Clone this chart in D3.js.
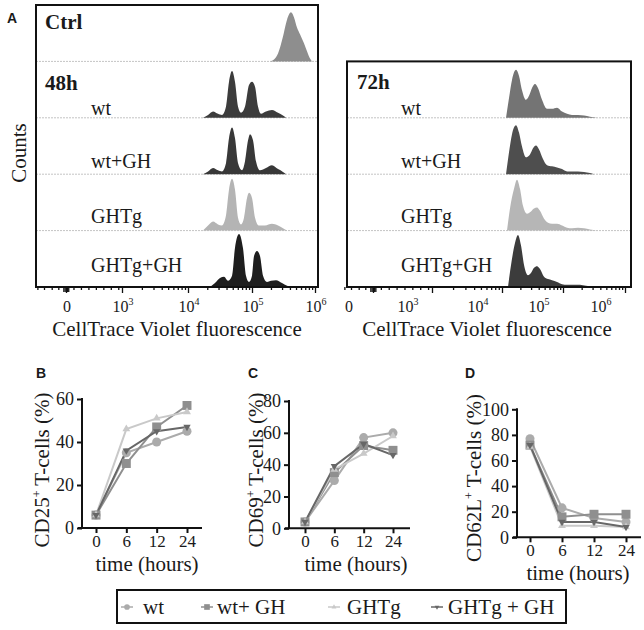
<!DOCTYPE html>
<html><head><meta charset="utf-8">
<script src="https://cdnjs.cloudflare.com/ajax/libs/d3/7.8.5/d3.min.js"></script>
<style>
body{margin:0;background:#fff}
svg{display:block}
text{font-family:"Liberation Serif","Times New Roman",serif;fill:#1a1a1a}
</style></head><body>
<svg id="fig" width="644" height="630"></svg>
<script>
// ================= DATA =================
// Panel A – histograms: [log10(CellTrace Violet), % of max]
const histTickValues = [0, 3, 4, 5, 6];
const histTickLabels = [["0",""],["10","3"],["10","4"],["10","5"],["10","6"]];
const rowLabels = ["wt","wt+GH","GHTg","GHTg+GH"];

const histCtrl = [[5.286,0],[5.349,3.5],[5.413,14],[5.492,44],[5.556,74],[5.619,87],[5.667,78],[5.714,60],[5.762,48],[5.825,32],[5.873,18],[5.921,5],[5.952,0]];

const hist48_wt = [[4.234,0],[4.313,5],[4.391,11],[4.469,7],[4.531,5],[4.594,20],[4.641,64],[4.688,83],[4.734,64],[4.781,20],[4.828,9],[4.891,20],[4.953,58],[5.0,64],[5.048,55],[5.095,20],[5.143,7],[5.222,11],[5.317,14],[5.413,9],[5.492,4],[5.540,0]];
const hist48_wtGH = [[4.234,0],[4.313,5],[4.391,11],[4.469,7],[4.531,5],[4.594,20],[4.641,64],[4.688,83],[4.734,64],[4.781,20],[4.844,7],[4.891,23],[4.938,60],[4.969,71],[5.016,60],[5.063,23],[5.127,7],[5.222,11],[5.317,16],[5.413,9],[5.492,4],[5.540,0]];
const hist48_GHTg = [[4.234,0],[4.313,9],[4.391,16],[4.469,11],[4.531,9],[4.594,27],[4.641,73],[4.688,92],[4.734,73],[4.781,23],[4.828,11],[4.875,23],[4.922,58],[4.953,67],[5.0,58],[5.048,23],[5.111,9],[5.206,9],[5.317,12],[5.413,9],[5.492,4],[5.556,0]];
const hist48_GHTgGH = [[4.344,0],[4.422,7],[4.5,16],[4.563,18],[4.625,11],[4.688,20],[4.734,69],[4.797,94],[4.859,69],[4.906,20],[4.953,9],[5.0,20],[5.032,55],[5.079,64],[5.127,55],[5.175,20],[5.238,9],[5.302,11],[5.381,12],[5.476,7],[5.556,2],[5.603,0]];

const hist72_wt = [[4.066,0],[4.115,35],[4.164,67],[4.230,85],[4.279,74],[4.328,49],[4.393,32],[4.443,39],[4.492,53],[4.541,60],[4.590,53],[4.656,32],[4.738,16],[4.820,16],[4.902,18],[4.984,11],[5.065,7],[5.145,5],[5.242,5],[5.339,4],[5.435,2],[5.548,0]];
const hist72_wtGH = [[4.066,0],[4.115,39],[4.164,71],[4.230,87],[4.279,74],[4.328,49],[4.393,30],[4.459,35],[4.508,46],[4.557,51],[4.607,44],[4.672,27],[4.738,16],[4.820,14],[4.902,12],[4.984,9],[5.065,5],[5.145,5],[5.242,5],[5.339,4],[5.435,2],[5.5,0]];
const hist72_GHTg = [[4.082,0],[4.131,39],[4.197,74],[4.246,90],[4.295,74],[4.344,44],[4.410,30],[4.475,34],[4.525,39],[4.574,41],[4.623,35],[4.689,21],[4.754,14],[4.820,12],[4.902,12],[4.984,9],[5.065,5],[5.145,4],[5.242,5],[5.339,4],[5.435,2],[5.548,0]];
const hist72_GHTgGH = [[4.098,0],[4.148,39],[4.213,78],[4.262,92],[4.311,74],[4.361,39],[4.426,21],[4.475,25],[4.525,34],[4.574,37],[4.623,32],[4.689,18],[4.754,14],[4.820,12],[4.902,9],[4.984,5],[5.065,4],[5.177,4],[5.274,4],[5.371,2],[5.548,0]];

// Panels B–D – % positive T-cells over time
const timeLabels = ["0","6","12","24"];
const seriesNames = ["wt","wt+ GH","GHTg","GHTg + GH"];

const cd25_wt     = [6, 35, 40, 45];
const cd25_wtGH   = [6, 30, 47, 57];
const cd25_GHTg   = [6, 46, 51, 54];
const cd25_GHTgGH = [6, 36, 45, 47];

const cd69_wt     = [4, 30, 57, 60];
const cd69_wtGH   = [4, 35, 52, 49];
const cd69_GHTg   = [4, 37, 47, 58];
const cd69_GHTgGH = [4, 39, 53, 46];

const cd62_wt     = [77, 23, 15, 12];
const cd62_wtGH   = [72, 16, 18, 18];
const cd62_GHTg   = [71, 9, 9, 8];
const cd62_GHTgGH = [72, 12, 12, 8];

const cd25Ticks = [0, 20, 40, 60];
const cd69Ticks = [0, 20, 40, 60, 80];
const cd62Ticks = [0, 20, 40, 60, 80, 100];

// ================= DRAWING =================
const svg = d3.select("#fig");
const SERIF = '"Liberation Serif","Times New Roman",serif';

// ---- Panel A ----
function histPanel(o) {
  const g = svg.append("g");
  const rowH = (o.bottom - o.top) / o.rows.length;
  o.rows.forEach((r, i) => {
    const base = o.top + rowH * (i + 1);
    const y = d3.scaleLinear().domain([0, 100]).range([base, base - rowH]);
    if (i < o.rows.length - 1) {
      g.append("line").attr("x1", o.left).attr("x2", o.right)
        .attr("y1", base).attr("y2", base)
        .attr("stroke", "#c4c4c4").attr("stroke-width", 1).attr("stroke-dasharray", "2,1");
    }
    const area = d3.area().x(d => o.x(d[0])).y0(base).y1(d => y(d[1])).curve(d3.curveMonotoneX);
    g.append("path").datum(r.data).attr("d", area).attr("fill", r.color);
    if (r.label) {
      g.append("text").attr("x", r.lx).attr("y", r.ly)
        .style("font-family", SERIF)
        .style("font-size", r.bold ? "21px" : "20px")
        .style("font-weight", r.bold ? "bold" : "normal")
        .text(r.label);
    }
  });
  if (o.head) {
    g.append("text").attr("x", o.headX).attr("y", o.headY).style("font-family", SERIF)
      .style("font-size", "21px").style("font-weight", "bold").text(o.head);
  }
  g.append("rect").attr("x", o.left).attr("y", o.top)
    .attr("width", o.right - o.left).attr("height", o.bottom - o.top)
    .attr("fill", "none").attr("stroke", "#111").attr("stroke-width", 2);

  // axis: major + minor ticks
  const minor = [];
  [-1.3, -1.0, -0.65, -0.35].forEach(v => minor.push(v));
  d3.range(0.4, 2.9, 0.4).forEach(v => minor.push(v));
  [3, 4, 5].forEach(dd => d3.range(2, 10).forEach(k => minor.push(dd + Math.log10(k))));
  const ax = g.append("g").attr("transform", `translate(0,${o.bottom})`);
  ax.append("g").call(d3.axisBottom(o.x).tickValues(minor).tickSize(3).tickFormat(""))
    .call(s => s.select(".domain").remove());
  ax.append("g").call(d3.axisBottom(o.x).tickValues([-0.12, -0.06, 0.06, 0.12]).tickSize(5).tickFormat(""))
    .call(s => s.select(".domain").remove());
  ax.append("g").call(d3.axisBottom(o.x).tickValues(histTickValues).tickSize(6).tickFormat(""))
    .call(s => s.select(".domain").remove());
  ax.selectAll("line").attr("stroke", "#111").attr("stroke-width", 1.3);

  histTickValues.forEach((v, i) => {
    const lab = histTickLabels[i];
    const t = g.append("text").attr("x", o.x(v) + o.labelDx).attr("y", 312)
      .attr("text-anchor", "middle").style("font-family", SERIF).style("font-size", "16px");
    t.append("tspan").text(lab[0]);
    if (lab[1]) t.append("tspan").attr("dy", -7).style("font-size", "10px").text(lab[1]);
  });
  g.append("text").attr("x", o.titleX).attr("y", 336).attr("text-anchor", "middle")
    .style("font-family", SERIF).style("font-size", "21px").text("CellTrace Violet fluorescence");
}

const xLeft = d3.scaleLinear().domain([-1, 0, 3, 4, 5, 6]).range([44, 66, 122, 188, 252, 315]);
const xRight = d3.scaleLinear().domain([-1, 0, 3, 4, 5, 6]).range([351, 373, 432, 502, 563, 625]);

histPanel({
  x: xLeft, left: 36, right: 318, top: 5, bottom: 287, labelDx: 1, titleX: 177,
  rows: [
    {data: histCtrl, color: "#8e8e8e", label: "Ctrl", lx: 45, ly: 29, bold: true},
    {data: hist48_wt, color: "#3c3c3c", label: rowLabels[0], lx: 91, ly: 115},
    {data: hist48_wtGH, color: "#383838", label: rowLabels[1], lx: 91, ly: 168},
    {data: hist48_GHTg, color: "#b4b4b4", label: rowLabels[2], lx: 91, ly: 223},
    {data: hist48_GHTgGH, color: "#1e1e1e", label: rowLabels[3], lx: 91, ly: 272}
  ],
  head: "48h", headX: 45, headY: 90
});

histPanel({
  x: xRight, left: 347, right: 631, top: 61.4, bottom: 287, labelDx: -24, titleX: 487,
  rows: [
    {data: hist72_wt, color: "#747474", label: rowLabels[0], lx: 401, ly: 115},
    {data: hist72_wtGH, color: "#4e4e4e", label: rowLabels[1], lx: 401, ly: 168},
    {data: hist72_GHTg, color: "#b6b6b6", label: rowLabels[2], lx: 401, ly: 223},
    {data: hist72_GHTgGH, color: "#3c3c3c", label: rowLabels[3], lx: 401, ly: 272}
  ],
  head: "72h", headX: 357, headY: 89
});

svg.append("text").attr("transform", "translate(26,153) rotate(-90)")
  .attr("text-anchor", "middle").style("font-family", SERIF).style("font-size", "21px").text("Counts");

// panel letters
[["A", 7, 23], ["B", 36, 378], ["C", 248, 378], ["D", 465, 378]].forEach(([t, x, y]) => {
  svg.append("text").attr("x", x).attr("y", y)
    .style("font-family", '"Liberation Sans",Arial,sans-serif')
    .style("font-weight", "bold").style("font-size", "14px").text(t);
});

// ---- Panels B–D ----
const seriesColors = ["#ababab", "#8f8f8f", "#c9c9c9", "#676767"];
const triDown = {draw(ctx, size) { const s = Math.sqrt(size / (Math.sqrt(3) * 0.75)); const h = s * Math.sqrt(3) / 2;
  ctx.moveTo(-s / 2, -h / 3); ctx.lineTo(s / 2, -h / 3); ctx.lineTo(0, 2 * h / 3); ctx.closePath(); }};
const triUp = {draw(ctx, size) { const s = Math.sqrt(size / (Math.sqrt(3) * 0.75)); const h = s * Math.sqrt(3) / 2;
  ctx.moveTo(-s / 2, h / 3); ctx.lineTo(s / 2, h / 3); ctx.lineTo(0, -2 * h / 3); ctx.closePath(); }};
const seriesSymbols = [d3.symbolCircle, d3.symbolSquare, triUp, triDown];
const seriesSizes = [64, 80, 80, 70];

function linePanel(o) {
  const g = svg.append("g");
  const x = d3.scalePoint().domain(timeLabels).range(o.xr);
  const y = d3.scaleLinear().domain([0, o.max]).range([o.y0, o.y1]);
  g.append("line").attr("x1", o.ax).attr("x2", o.ax).attr("y1", o.y0).attr("y2", o.y1 - 1)
    .attr("stroke", "#111").attr("stroke-width", 2);
  g.append("line").attr("x1", o.ax - 4).attr("x2", o.xEnd).attr("y1", o.y0).attr("y2", o.y0)
    .attr("stroke", "#111").attr("stroke-width", 2);
  const ya = g.append("g").attr("transform", `translate(${o.ax},0)`)
    .call(d3.axisLeft(y).tickValues(o.ticks).tickSize(5).tickPadding(3).tickFormat(d3.format("d")));
  ya.select(".domain").remove();
  ya.selectAll("line").attr("stroke", "#111").attr("stroke-width", 2);
  ya.selectAll("text").style("font-family", SERIF).style("font-size", "18px").attr("fill", "#1a1a1a");
  const xa = g.append("g").attr("transform", `translate(0,${o.y0})`)
    .call(d3.axisBottom(x).tickSize(5).tickPadding(2));
  xa.select(".domain").remove();
  xa.selectAll("line").attr("stroke", "#111").attr("stroke-width", 2);
  xa.selectAll("text").style("font-family", SERIF).style("font-size", "17px").attr("fill", "#1a1a1a");

  const line = d3.line().x((d, i) => x(timeLabels[i])).y(d => y(d));
  o.series.forEach((s, k) => {
    g.append("path").datum(s).attr("d", line).attr("fill", "none")
      .attr("stroke", seriesColors[k]).attr("stroke-width", 2);
  });
  o.series.forEach((s, k) => {
    g.selectAll(null).data(s).join("path")
      .attr("transform", (d, i) => `translate(${x(timeLabels[i])},${y(d)})`)
      .attr("d", d3.symbol(seriesSymbols[k], seriesSizes[k]))
      .attr("fill", seriesColors[k]);
  });

  g.append("text").attr("x", o.tx).attr("y", o.ty).attr("text-anchor", "middle")
    .style("font-family", SERIF).style("font-size", "21px").text("time (hours)");
  const yt = g.append("text").attr("transform", `translate(${o.lx},${o.ly}) rotate(-90)`)
    .attr("text-anchor", "middle").style("font-family", SERIF).style("font-size", "21px");
  yt.append("tspan").text(o.lab);
  yt.append("tspan").attr("dy", -8).style("font-size", "12px").text("+");
  yt.append("tspan").attr("dy", 8).text(" T-cells (%)");
}

linePanel({ax: 82, xr: [96, 187], xEnd: 202, y0: 528, y1: 399, max: 60, ticks: cd25Ticks,
  series: [cd25_wt, cd25_wtGH, cd25_GHTg, cd25_GHTgGH], tx: 147, ty: 571, lx: 49, ly: 470, lab: "CD25"});
linePanel({ax: 289, xr: [305, 393], xEnd: 410, y0: 528.3, y1: 401, max: 80, ticks: cd69Ticks,
  series: [cd69_wt, cd69_wtGH, cd69_GHTg, cd69_GHTgGH], tx: 356, ty: 571, lx: 263, ly: 470, lab: "CD69"});
linePanel({ax: 517, xr: [530, 626], xEnd: 641, y0: 537.3, y1: 409.3, max: 100, ticks: cd62Ticks,
  series: [cd62_wt, cd62_wtGH, cd62_GHTg, cd62_GHTgGH], tx: 578, ty: 580, lx: 481, ly: 478, lab: "CD62L"});

// ---- Legend ----
const lg = svg.append("g");
lg.append("rect").attr("x", 117).attr("y", 590).attr("width", 449).attr("height", 33)
  .attr("fill", "none").attr("stroke", "#111").attr("stroke-width", 2);
const legMarkX = [127, 207, 334, 437];
const legTextX = [143, 217, 347, 448];
seriesNames.forEach((n, k) => {
  lg.append("line").attr("x1", legMarkX[k] - 6).attr("x2", legMarkX[k] + 6)
    .attr("y1", 607).attr("y2", 607).attr("stroke", seriesColors[k]).attr("stroke-width", 1.5);
  lg.append("path").attr("transform", `translate(${legMarkX[k]},607)`)
    .attr("d", d3.symbol(seriesSymbols[k], seriesSizes[k] * 0.4)).attr("fill", seriesColors[k]);
  lg.append("text").attr("x", legTextX[k]).attr("y", 614).style("font-family", SERIF)
    .style("font-size", "21px").text(n);
});
</script>
</body></html>
